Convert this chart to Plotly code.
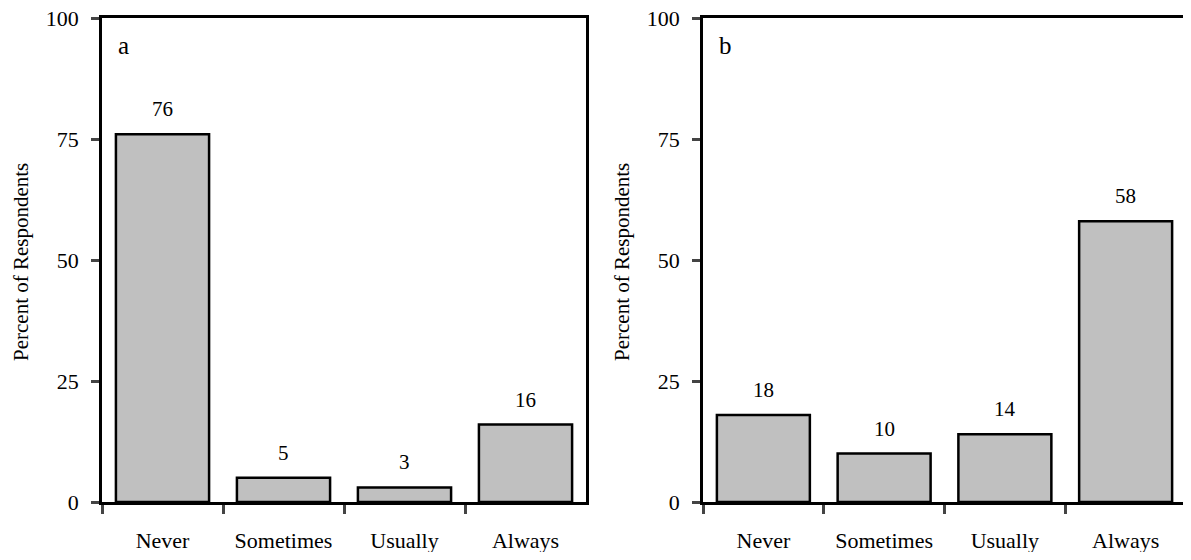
import plotly.graph_objects as go

categories = ["Never", "Sometimes", "Usually", "Always"]
values_a = [76, 5, 3, 16]
values_b = [18, 10, 14, 58]
panel_labels = ["a", "b"]
y_ticks = [0, 25, 50, 75, 100]
y_title = "Percent of Respondents"

FONT = "Liberation Serif, Times New Roman, serif"
OFF = 8  # page body margin
W, H = 1191 - OFF, 560 - 2 * OFF


def px_x(v):
    return (v - OFF) / W


def px_y(v):
    return (H - (v - OFF)) / H


fig = go.Figure()

panels = [
    (values_a, "x", "y", [102, 586]),
    (values_b, "x2", "y2", [703, 1186]),
]

for vals, xa, ya, _ in panels:
    fig.add_trace(go.Bar(
        x=categories, y=vals, xaxis=xa, yaxis=ya,
        marker=dict(color="#c0c0c0", line=dict(color="black", width=2.5)),
        showlegend=False, width=0.77,
    ))
    for c, v in zip(categories, vals):
        fig.add_annotation(
            x=c, y=v, xref=xa, yref=ya, text=str(v), showarrow=False,
            yanchor="bottom", yshift=11, font=dict(family=FONT, size=21, color="black"),
        )

y_dom = [px_y(502), px_y(18)]

common_y = dict(
    range=[0, 100], tickvals=y_ticks, ticks="outside", ticklen=8, tickwidth=2.5,
    showline=True, linewidth=2.5, linecolor="black", mirror=True,
    showgrid=False, zeroline=False, domain=y_dom, automargin=False,
    ticklabelstandoff=8, ticklabeloverflow="allow",
    tickfont=dict(family=FONT, size=22, color="black"),
)
common_x = dict(
    ticks="outside", tickson="boundaries", ticklen=9, tickwidth=2.5,
    showline=True, linewidth=2.5, linecolor="black", mirror=True,
    showgrid=False, automargin=False, ticklabelstandoff=17,
    ticklabeloverflow="allow",
    tickfont=dict(family=FONT, size=22, color="black"),
)

fig.update_layout(
    width=W, height=H, margin=dict(l=0, r=0, t=0, b=0, autoexpand=False),
    plot_bgcolor="white", paper_bgcolor="white",
    xaxis=dict(common_x, domain=[px_x(102), px_x(586)], anchor="y"),
    yaxis=dict(common_y, anchor="x"),
    xaxis2=dict(common_x, domain=[px_x(703), px_x(1186)], anchor="y2"),
    yaxis2=dict(common_y, anchor="x2"),
)

for lab, (_, xa, ya, px) in zip(panel_labels, panels):
    fig.add_annotation(
        x=px_x(px[0] + 14), y=px_y(30), xref="paper", yref="paper",
        text=lab, showarrow=False, xanchor="left", yanchor="top",
        font=dict(family=FONT, size=25, color="black"),
    )
    fig.add_annotation(
        x=px_x(px[0] - 81), y=px_y(262), xref="paper", yref="paper",
        text=y_title, showarrow=False, textangle=-90,
        xanchor="center", yanchor="middle",
        font=dict(family=FONT, size=21, color="black"),
    )

fig.write_html("out.html")
